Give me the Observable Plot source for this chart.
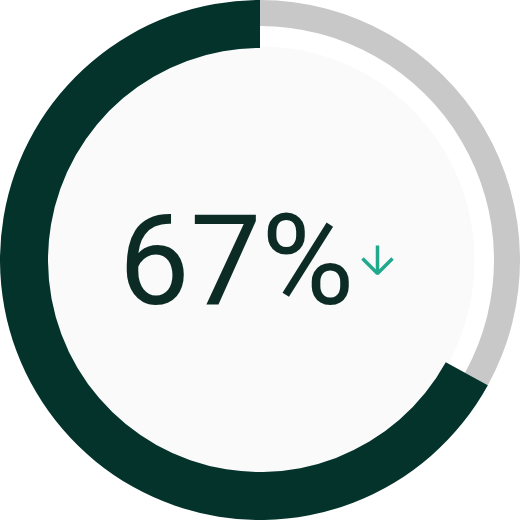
<!DOCTYPE html>
<html>
<head>
<meta charset="utf-8">
<script src="https://cdn.jsdelivr.net/npm/d3@7"></script>
<script src="https://cdn.jsdelivr.net/npm/@observablehq/plot@0.6"></script>
<style>
  html, body { margin: 0; padding: 0; background: #ffffff; }
  #chart svg { display: block; }
</style>
</head>
<body>
<div id="chart"></div>
<script>
// Data
const categories = ["share", "rest"];
const values = [67, 33];
const label = "67%";
const trend = ["down"];

const total = d3.sum(values);
const restFrac = values[1] / total;

// Arc mark rendered through Plot's x/y scales
function arcMark(startFrac, endFrac, innerR, outerR, fill) {
  return (index, scales) => {
    const cx = scales.x(0), cy = scales.y(0);
    const k = Math.abs(scales.x(1) - scales.x(0));
    const arc = d3.arc()
      .innerRadius(innerR * k)
      .outerRadius(outerR * k)
      .startAngle(startFrac * 2 * Math.PI)
      .endAngle(endFrac * 2 * Math.PI);
    const g = d3.create("svg:g").attr("transform", `translate(${cx},${cy})`);
    g.append("path").attr("d", arc()).attr("fill", fill);
    return g.node();
  };
}

// Trend arrow glyph (layout, relative to chart centre)
const arrowStem = [{x1: 117, y1: -15, x2: 117, y2: 13}];
const arrowHead = [{x: 102, y: -2}, {x: 117, y: 13}, {x: 132, y: -2}];

const plot = Plot.plot({
  width: 520,
  height: 520,
  margin: 0,
  x: { domain: [-260, 260], range: [0, 520], axis: null },
  y: { domain: [-260, 260], range: [0, 520], axis: null },
  style: { background: "#ffffff" },
  marks: [
    Plot.dot([0], { x: 0, y: 0, r: 214, fill: "#fafafa", stroke: null }),
    arcMark(0, restFrac, 234, 260, "#c8c8c8"),
    arcMark(restFrac, 1, 212, 260, "#03332b"),
    Plot.text([label], {
      x: -24, y: 3,
      text: d => d,
      fontSize: 127,
      fontFamily: "Roboto",
      fontWeight: 400,
      fill: "#0c2b24",
      textAnchor: "middle"
    }),
    Plot.link(arrowStem, {
      x1: "x1", y1: "y1", x2: "x2", y2: "y2",
      stroke: "#22a88c", strokeWidth: 3.5
    }),
    Plot.line(arrowHead, {
      x: "x", y: "y",
      stroke: "#22a88c", strokeWidth: 3.5,
      strokeLinejoin: "miter", strokeLinecap: "butt"
    })
  ]
});

document.getElementById("chart").appendChild(plot);
</script>
</body>
</html>
